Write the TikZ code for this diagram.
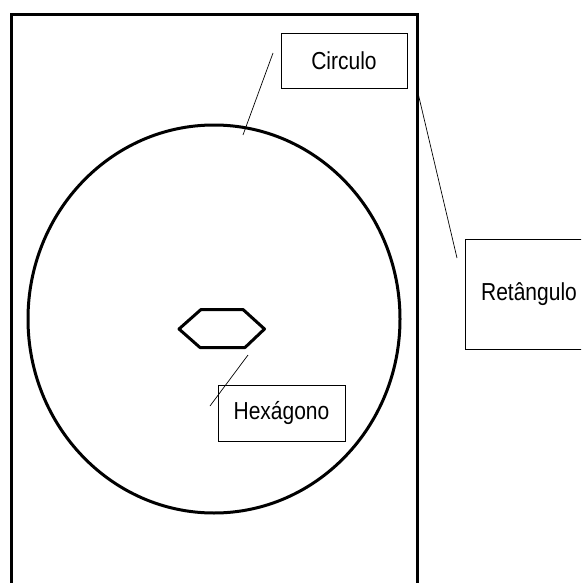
\documentclass[tikz,border=0pt]{standalone}
\usepackage{graphicx}
\usepackage{fontspec}
\setmainfont{Liberation Sans}
\usetikzlibrary{shapes.geometric}

\newcommand{\tallword}[1]{\scalebox{1}[1.17]{#1}}

\begin{document}
\begin{tikzpicture}[x=1pt, y=-1pt,
  lbl/.style={draw, rectangle, line width=0.8pt, inner sep=0pt,
    font=\fontsize{21}{25}\selectfont},
  shp/.style={line width=3pt, line join=round}]
\useasboundingbox (0,0) rectangle (581,583);
\clip (0,0) rectangle (581,583);
% outer rectangle, open at the bottom
\draw[shp, line join=miter] (11,600) -- (11,15) -- (417,15) -- (417,600);
\node[shp, draw, ellipse, minimum width=372pt, minimum height=388pt, inner sep=0pt] (circ) at (214,319) {};
\draw[shp] (179,329) -- (201,309.5) -- (243,309.5) -- (264.5,329) -- (245,347.5) -- (200,347.5) -- cycle;
\node[lbl, minimum width=126pt, minimum height=55pt] (circulo) at (344,60.5) {\tallword{Circulo}};
\node[lbl, minimum width=127pt, minimum height=56pt] (hexagono) at (281.5,413) {\tallword{Hexágono}};
\node[lbl, minimum width=128pt, minimum height=110pt] (retangulo) at (529,294) {\tallword{Retângulo}};
\coordinate (c1) at (273,53);
\coordinate (c2) at (243,135);
\coordinate (r1) at (418,93);
\coordinate (r2) at (457,258);
\coordinate (h1) at (248,355);
\coordinate (h2) at (210,406);
\draw[line width=0.7pt] (c1) -- (c2);
\draw[line width=0.7pt] (r1) -- (r2);
\draw[line width=0.7pt] (h1) -- (h2);
\end{tikzpicture}
\end{document}
